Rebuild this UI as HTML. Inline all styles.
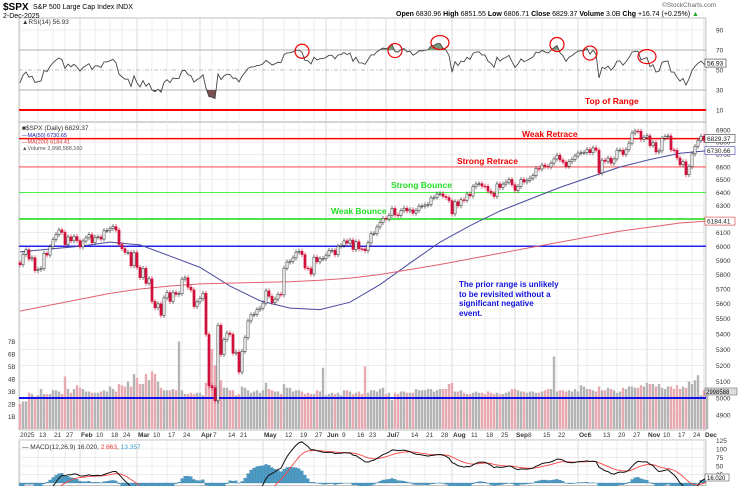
<!DOCTYPE html>
<html><head><meta charset="utf-8"><style>
html,body{margin:0;padding:0;background:#fff;width:741px;height:486px;overflow:hidden;}
svg{display:block;font-family:"Liberation Sans",sans-serif;}
</style></head><body>
<svg id="c" width="741" height="486" viewBox="0 0 741 486">
<rect x="0" y="0" width="741" height="486" fill="#fff"/>
<g id="grid"></g>
<g id="vol"></g>
<g id="levels"></g>
<g id="rsi"></g>
<g id="ma"></g>
<g id="candles"></g>
<g id="macd"></g>
<g id="axes"></g>
<g id="texts">
<text x="3" y="10" font-size="10" font-weight="bold">$SPX</text>
<text x="33" y="9" font-size="7">S&amp;P 500 Large Cap Index  INDX</text>
<text x="3" y="18" font-size="7">2-Dec-2025</text>
<text x="396" y="16" font-size="7"><tspan font-weight="bold">Open</tspan> 6830.96 <tspan font-weight="bold">High</tspan> 6851.55 <tspan font-weight="bold">Low</tspan> 6806.71 <tspan font-weight="bold">Close</tspan> 6829.37 <tspan font-weight="bold">Volume</tspan> 3.0B <tspan font-weight="bold">Chg</tspan> +16.74 (+0.25%) <tspan fill="#2a2">▲</tspan></text>
<text x="662" y="7" font-size="6.5" fill="#666">©StockCharts.com</text>
<text x="22" y="24" font-size="6.5" fill="#333">▲RSI(14) 56.93</text>
<text x="22" y="130" font-size="6.5" fill="#333">■$SPX (Daily) 6829.37</text>
<text x="22" y="137" font-size="5.5" fill="#22a">—MA(50) 6730.65</text>
<text x="22" y="143.5" font-size="5.5" fill="#d33">—MA(200) 6184.41</text>
<text x="22" y="150" font-size="5.5" fill="#555">▲Volume 2,998,588,160</text>
<text x="585" y="104" font-size="8.5" font-weight="bold" fill="#e00">Top of Range</text>
<text x="522" y="137" font-size="8.5" font-weight="bold" fill="#e00">Weak Retrace</text>
<text x="457" y="164" font-size="8.5" font-weight="bold" fill="#e00">Strong Retrace</text>
<text x="391" y="188" font-size="8.5" font-weight="bold" fill="#2d2">Strong Bounce</text>
<text x="331" y="214" font-size="8.5" font-weight="bold" fill="#2d2">Weak Bounce</text>
<g font-size="8" font-weight="bold" fill="#11d">
<text x="459" y="287">The prior range is unlikely</text>
<text x="459" y="297">to be revisited without a</text>
<text x="459" y="306">significant negative</text>
<text x="459" y="316">event.</text>
</g>
<text x="22" y="449" font-size="6.5" fill="#333">— MACD(12,26,9) 16.020, <tspan fill="#e33">2.663</tspan>, <tspan fill="#39c">13.357</tspan></text>
</g>
</svg>
<script>
const priorCloses=[6034,6084,6051,6051,6074,6050,5872,5867,5930,5974,6037,6040,5970,5971,5907,5882];
const closes=[
5868,5942,5975,5909,5918,5827,5836,5842,5950,5937,5997,6049,6086,6119,6101,6012,6068,6039,6071,6041,
5995,6038,6061,6084,6026,6066,6068,6052,6115,6115,6129,6144,6118,6013,5983,5956,5956,5861,5955,
5850,5778,5843,5738,5770,5615,5572,5599,5522,5639,5675,5615,5676,5663,5668,5768,5777,5712,5693,5581,5612,
5633,5671,5397,5074,5062,4983,5457,5268,5363,5406,5397,5276,5283,5158,5288,5376,5485,5525,5529,5561,5570,
5604,5687,5650,5607,5631,5664,5660,5844,5887,5892,5917,5958,5964,5940,5845,5842,5803,5922,5889,5912,5912,
5936,5970,5971,5939,6000,6006,6039,6022,6045,5977,6033,5982,5981,5968,6025,6092,6092,6141,6173,6205,
6199,6227,6279,6230,6226,6263,6281,6260,6269,6244,6264,6297,6297,6305,6309,6359,6363,6389,6390,6371,6362,6339,
6238,6330,6299,6345,6340,6389,6374,6446,6466,6469,6450,6449,6411,6396,6370,6467,6439,6466,6481,6502,6460,
6416,6448,6502,6482,6495,6512,6532,6588,6584,6615,6606,6600,6631,6664,6694,6656,6638,6605,6644,6661,6688,
6711,6715,6716,6740,6714,6753,6735,6553,6655,6644,6671,6630,6664,6735,6735,6699,6738,6792,6875,6891,6890,6822,6840,
6852,6772,6796,6720,6729,6832,6846,6851,6737,6734,6672,6617,6642,6539,6603,6705,6766,6813,6849,
6813,6829];
const volumes=[
2.0,2.2,2.2,2.9,2.8,2.6,2.7,3.2,2.8,2.8,2.8,3.1,3.1,3.0,2.8,4.2,3.2,2.9,3.2,3.5,
3.3,3.2,3.0,3.0,2.9,2.9,2.9,3.0,3.1,3.0,3.4,3.2,3.0,3.6,3.5,3.4,3.8,3.4,4.4,
4.1,3.6,3.6,4.4,3.9,4.6,4.4,3.8,3.3,3.1,3.1,3.1,3.2,3.1,7.0,3.1,2.8,2.8,2.9,2.8,2.9,
2.9,2.7,3.7,6.4,6.4,5.1,7.5,3.9,3.3,3.3,3.1,3.1,2.7,2.8,3.4,3.3,3.1,2.9,3.0,3.1,2.9,
3.1,3.7,3.2,3.1,3.0,3.0,2.8,3.6,3.3,3.3,3.0,3.1,3.1,3.0,2.8,2.9,2.8,2.8,3.1,3.0,4.9,
2.7,2.8,2.9,2.8,2.9,2.7,3.1,3.1,3.0,2.8,2.9,3.0,2.8,5.0,2.9,3.1,3.1,3.0,3.2,3.3,
2.8,2.9,2.3,2.9,2.8,3.0,3.0,2.9,2.9,2.9,3.2,3.1,3.1,3.1,3.2,3.2,3.0,3.1,3.2,3.2,3.2,3.6,
3.7,3.0,3.0,3.1,2.9,2.8,2.8,2.9,3.0,2.9,2.9,2.8,3.0,2.9,2.8,2.9,2.8,2.8,2.9,3.0,3.2,
3.2,3.1,3.0,3.0,2.9,3.0,3.0,2.9,2.9,3.0,3.1,3.2,3.2,5.8,3.0,3.1,3.1,3.0,3.1,3.0,3.2,
3.0,3.5,3.4,3.2,3.2,3.1,3.0,3.4,3.1,3.1,3.3,3.2,3.1,2.9,3.0,3.3,3.2,3.4,3.4,3.3,3.3,3.5,3.4,
3.7,3.6,3.6,3.4,3.6,3.3,3.2,3.4,3.4,3.2,3.5,3.2,3.4,3.3,3.8,3.6,3.9,4.3,2.7,
3.1,3.0];
const ma50Idx=[0,10,20,30,40,50,60,70,80,90,100,110,120,130,140,150,160,170,180,190,200,210,220,229];
const ma50Vals=[5960,5980,6000,6030,6010,5930,5850,5720,5620,5570,5560,5610,5730,5880,6030,6150,6260,6350,6440,6520,6600,6660,6710,6730];
const ma200Vals=[5550,5590,5630,5670,5700,5720,5735,5740,5745,5750,5760,5775,5800,5835,5870,5910,5950,5990,6030,6070,6110,6140,6170,6184];
const xLabels=["2025","13","21","27","Feb","10","18","24","Mar","10","17","24","Apr","7","14","21","May","12","19","27","Jun","9","16","23","Jul","7","14","21","28","Aug","11","18","25","Sep","8","15","22","Oct","6","13","20","27","Nov","10","17","24","Dec"];
const xLabelIdx=[0,6,11,15,20,25,30,34,39,44,49,54,60,64,69,73,81,88,93,98,102,107,112,116,122,125,130,135,140,144,150,155,160,165,169,174,179,186,189,194,199,204,209,214,219,224,228];
const priceTicks=[4900,5000,5100,5200,5300,5400,5500,5600,5700,5800,5900,6000,6100,6200,6300,6400,6500,6600,6700,6800,6900];
const rsiTicks=[10,30,50,70,90];
const volTicks=[1,2,3,4,5,6,7];
const macdTicks=[25,50,75,100,125];
const levelPrices=[6829,6600,6400,6200,6000];
const rsiCircleIdx=[94,125,140,179,190,209];

const NS="http://www.w3.org/2000/svg";
const L=19,R=706;
const X=i=>L+1+i*3.0;
const Y=p=>130+832*Math.log(6900/p);
const YR=v=>120-v;
const YV=v=>429-v*12.5;
const YM=v=>483-v*0.34;
function mk(g,tag,a){const e=document.createElementNS(NS,tag);for(const k in a)e.setAttribute(k,a[k]);document.getElementById(g).appendChild(e);return e;}

let e;
e=mk('grid','rect',{x:L,y:18,width:R-L,height:104,fill:'none',stroke:'#999','stroke-width':0.6});


e=mk('grid','rect',{x:L,y:122,width:R-L,height:308,fill:'none',stroke:'#999','stroke-width':0.6});


e=mk('grid','rect',{x:L,y:440,width:R-L,height:45.5,fill:'none',stroke:'#999','stroke-width':0.6});


xLabelIdx.forEach((ix,k)=>{
  const x=X(ix),major=isNaN(+xLabels[k]);
  [[18,122],[122,430],[440,486]].forEach(([a,b])=>{
    e=mk('grid','line',{x1:x,x2:x,y1:a,y2:b,stroke:major?'#ccc':'#e4e4e4','stroke-width':0.7});
    
    
  });
  e=mk('axes','text',{x:x+(k==0?0:1),y:437,'font-size':6.5,'font-weight':major?'bold':'normal',fill:'#333'});
  e.textContent=xLabels[k];
  
  
});
priceTicks.forEach(p=>{
  e=mk('grid','line',{x1:L,x2:R,y1:Y(p),y2:Y(p),stroke:'#e6e6e6','stroke-width':0.7});
  
  
  e=mk('axes','text',{x:716,y:Y(p)+2.5,'font-size':6.5,fill:'#333'});
  e.textContent=p;
  
  
});
rsiTicks.forEach(v=>{
  e=mk('grid','line',{x1:L,x2:R,y1:YR(v),y2:YR(v),stroke:(v==30||v==70)?'#999':'#e6e6e6','stroke-width':0.8,'stroke-dasharray':v==50?'4,2,1,2':'none'});
  if(v==50)e.setAttribute('stroke','#aaa');
  
  
  e=mk('axes','text',{x:716,y:YR(v)+2.5,'font-size':6.5,fill:'#333'});
  e.textContent=v;
  
  
});
volTicks.forEach(v=>{
  e=mk('axes','text',{x:8,y:YV(v)+2.5,'font-size':6,fill:'#333'});
  e.textContent=v+'B';
  
  
});
macdTicks.forEach(v=>{
  e=mk('grid','line',{x1:L,x2:R,y1:YM(v),y2:YM(v),stroke:'#e6e6e6','stroke-width':0.7});
  
  
  e=mk('axes','text',{x:716,y:YM(v)+2.5,'font-size':6.5,fill:'#333'});
  e.textContent=v;
  
  
});

closes.forEach((c,i)=>{
  const prev=i?closes[i-1]:priorCloses[priorCloses.length-1];
  e=mk('vol','rect',{x:X(i)-1.2,y:YV(volumes[i]),width:2.4,height:429-YV(volumes[i]),fill:c<prev?'#e8a9b0':'#b4b4b4'});
  
  
});

const lv=[[110,'#f00',2,'top-of-range-line'],[Y(levelPrices[0]),'#f00',1.5,'weak-retrace-line'],[Y(levelPrices[1]),'#f33',0.9,'strong-retrace-line'],[Y(levelPrices[2]),'#3e3',0.9,'strong-bounce-line'],[Y(levelPrices[3]),'#1d1',1.5,'weak-bounce-line'],[Y(levelPrices[4]),'#22e',1.5,'prior-range-line'],[398,'#11e',2,'volume-level-line']];
lv.forEach(([y,c,w,n])=>{
  e=mk('levels','line',{x1:L,x2:R,y1:y,y2:y,stroke:c,'stroke-width':w});
  
  
});

const all=priorCloses.concat(closes);
let ag=0,al=0;const rsi=[];
for(let j=1;j<all.length;j++){
  const d=all[j]-all[j-1],g=Math.max(d,0),l=Math.max(-d,0);
  if(j<=14){ag+=g/14;al+=l/14;}else{ag=(ag*13+g)/14;al=(al*13+l)/14;}
  if(j>=priorCloses.length)rsi.push(100-100/(1+ag/(al||1e-9)));
}
let pts=rsi.map((v,i)=>X(i)+','+YR(v)).join(' ');
mk('rsi','clipPath',{id:'hi'});mk('hi','rect',{x:L,y:18,width:R-L,height:YR(70)-18});
mk('rsi','clipPath',{id:'lo'});mk('lo','rect',{x:L,y:YR(30),width:R-L,height:30});
e=mk('rsi','polygon',{points:X(0)+','+YR(70)+' '+pts+' '+X(rsi.length-1)+','+YR(70),fill:'#7a9a7a','clip-path':'url(#hi)'});


e=mk('rsi','polygon',{points:X(0)+','+YR(30)+' '+pts+' '+X(rsi.length-1)+','+YR(30),fill:'#7a5050','clip-path':'url(#lo)'});


e=mk('rsi','polyline',{points:pts,fill:'none',stroke:'#444','stroke-width':0.9});


rsiCircleIdx.forEach(i=>{
  e=mk('rsi','ellipse',{cx:X(i),cy:YR(rsi[i])-1,rx:i==140||i==209?9:7,ry:7,fill:'none',stroke:'#e00','stroke-width':1.2});
  
  
});
e=mk('axes','rect',{x:705,y:YR(56.93)-4,width:21,height:8,fill:'#fff',stroke:'#333','stroke-width':0.6});


e=mk('axes','text',{x:707,y:YR(56.93)+2.3,'font-size':6.5});e.textContent='56.93';



e=mk('ma','polyline',{points:ma50Idx.map((ix,k)=>X(ix)+','+Y(ma50Vals[k])).join(' '),fill:'none',stroke:'#4a4aa0','stroke-width':1});


e=mk('ma','polyline',{points:ma50Idx.map((ix,k)=>X(ix)+','+Y(ma200Vals[k])).join(' '),fill:'none',stroke:'#e06070','stroke-width':1});



closes.forEach((c,i)=>{
  const o=i?closes[i-1]:priorCloses[priorCloses.length-1];
  const up=c>=o,col=up?'#222':'#d0103a';
  const hi=Math.max(o,c)*1.003,lo=Math.min(o,c)*0.997;
  e=mk('candles','line',{x1:X(i),x2:X(i),y1:Y(hi),y2:Y(lo),stroke:col,'stroke-width':0.6});
  
  
  const y1=Y(Math.max(o,c)),y2=Y(Math.min(o,c));
  e=mk('candles','rect',{x:X(i)-1.1,y:y1,width:2.2,height:Math.max(y2-y1,0.8),fill:up?'#fff':col,stroke:col,'stroke-width':0.5});
  
  
});

[[Y(6829.37),'6829.37','#333'],[Y(6730.65),'6730.66','#44a'],[Y(6184.41),'6184.41','#d33']].forEach(([y,t,c])=>{
  e=mk('axes','rect',{x:705,y:y-4,width:30,height:8,fill:'#fff',stroke:c,'stroke-width':0.6});
  
  
  e=mk('axes','text',{x:707,y:y+2.3,'font-size':6.5,fill:'#222'});e.textContent=t;
  
  
});
e=mk('axes','rect',{x:705,y:388,width:32,height:7,fill:'#ddd',stroke:'#555','stroke-width':0.5});


e=mk('axes','text',{x:706,y:394,'font-size':6}); e.textContent='2998588';



let e12=all[0],e26=all[0],sig=0;const mac=[],sg=[];
all.forEach((c,j)=>{e12=e12+(c-e12)*2/13;e26=e26+(c-e26)*2/27;const m=e12-e26;sig=sig+(m-sig)*0.2;
  if(j>=priorCloses.length){mac.push(m);sg.push(sig);}});
mk('macd','clipPath',{id:'mc'});mk('mc','rect',{x:L,y:440,width:R-L,height:46});
const mg=mk('macd','g',{'clip-path':'url(#mc)'});mg.setAttribute('id','mg');
mac.forEach((m,i)=>{
  const h=m-sg[i],y=YM(Math.max(h,0)),hh=Math.abs(YM(h)-YM(0));
  e=mk('mg','rect',{x:X(i)-1.3,y:y,width:2.6,height:Math.max(hh,0.3),fill:'#4a9cc8',stroke:'#2a6f96','stroke-width':0.3});
  
  
});
e=mk('mg','polyline',{points:sg.map((v,i)=>X(i)+','+YM(v)).join(' '),fill:'none',stroke:'#f44','stroke-width':0.9});


e=mk('mg','polyline',{points:mac.map((v,i)=>X(i)+','+YM(v)).join(' '),fill:'none',stroke:'#111','stroke-width':1});


e=mk('axes','rect',{x:705,y:474,width:24,height:7,fill:'#fff',stroke:'#333','stroke-width':0.5});


e=mk('axes','text',{x:707,y:480,'font-size':6}); e.textContent='16.020';


</script>
</body></html>
